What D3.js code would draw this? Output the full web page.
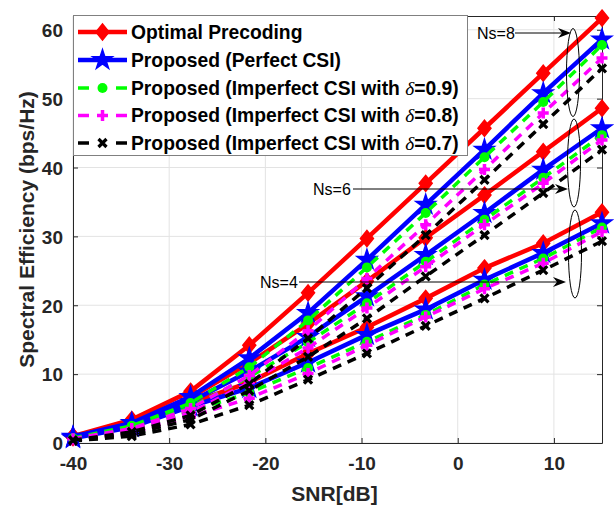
<!DOCTYPE html>
<html><head><meta charset="utf-8">
<script src="https://cdn.jsdelivr.net/npm/d3@7"></script>
<style>
body{margin:0;background:#fff;}
svg{display:block;font-family:"Liberation Sans",Arial,sans-serif;}
</style></head>
<body><svg id="c" width="614" height="510"></svg>
<script>
const snr = [-40, -33.89, -27.78, -21.67, -15.56, -9.44, -3.33, 2.78, 8.89, 15];
const xTicks = [-40, -30, -20, -10, 0, 10];
const yTicks = [0, 10, 20, 30, 40, 50, 60];

const optimal8 = [1.0, 3.4, 7.5, 14.2, 21.8, 29.7, 37.7, 45.7, 53.7, 61.7];
const perfect8 = [0.9, 2.9, 6.7, 12.3, 18.9, 26.6, 34.6, 42.6, 50.8, 58.6];
const imp09_8  = [0.7, 2.5, 5.8, 11.0, 17.8, 25.5, 33.4, 41.5, 49.5, 57.8];
const imp08_8  = [0.6, 2.1, 5.0, 9.8, 16.3, 23.9, 31.7, 39.7, 47.9, 55.9];
const imp07_8  = [0.4, 1.6, 4.0, 8.6, 15.2, 22.5, 30.2, 38.2, 46.3, 54.4];

const optimal6 = [0.9, 3.0, 6.6, 11.6, 17.3, 23.5, 29.8, 36.0, 42.3, 48.6];
const perfect6 = [0.8, 2.6, 6.0, 10.4, 15.4, 21.3, 27.3, 33.4, 39.7, 45.7];
const imp09_6  = [0.6, 2.2, 5.2, 9.6, 14.6, 20.3, 26.3, 32.4, 38.5, 44.7];
const imp08_6  = [0.5, 1.8, 4.4, 8.8, 13.8, 19.6, 25.6, 31.7, 37.7, 44.0];
const imp07_6  = [0.35, 1.3, 3.4, 7.6, 12.5, 18.1, 24.2, 30.2, 36.3, 42.6];

const optimal4 = [0.8, 2.6, 5.8, 8.8, 13.0, 16.8, 21.0, 25.4, 29.0, 33.5];
const perfect4 = [0.7, 2.3, 5.3, 8.0, 11.7, 15.7, 19.4, 23.7, 27.6, 31.9];
const imp09_4  = [0.55, 1.9, 4.6, 7.3, 10.9, 14.7, 18.6, 23.0, 26.8, 31.3];
const imp08_4  = [0.45, 1.5, 3.8, 6.5, 10.1, 14.2, 18.3, 22.4, 26.1, 30.7];
const imp07_4  = [0.3, 1.0, 2.7, 5.5, 9.2, 13.0, 17.0, 21.0, 25.1, 29.3];

const legendNames = ["Optimal Precoding", "Proposed (Perfect CSI)",
  "Proposed (Imperfect CSI with |δ|=0.9)", "Proposed (Imperfect CSI with |δ|=0.8)",
  "Proposed (Imperfect CSI with |δ|=0.7)"];
const nsLabels = ["Ns=8", "Ns=6", "Ns=4"];

const styles = [
  {color:"#ff0000", dash:null, marker:"diamond"},
  {color:"#0000ff", dash:null, marker:"star"},
  {color:"#00ff00", dash:"9,7", marker:"circle"},
  {color:"#ff00ff", dash:"9,7", marker:"plus"},
  {color:"#000000", dash:"9,7", marker:"x"}
];
const groups = [
  [optimal4, perfect4, imp09_4, imp08_4, imp07_4],
  [optimal6, perfect6, imp09_6, imp08_6, imp07_6],
  [optimal8, perfect8, imp09_8, imp08_8, imp07_8]
];

const svg = d3.select("#c");
const L = 73, R = 602, T = 16, B = 443;
const x = d3.scaleLinear().domain([-40, 15]).range([L, R]);
const y = d3.scaleLinear().domain([0, 62]).range([B, T]);
const axC = "#262626";

// grid
svg.append("g").selectAll("line").data(xTicks).join("line")
  .attr("x1", d => x(d)).attr("x2", d => x(d)).attr("y1", T).attr("y2", B)
  .attr("stroke", "#e3e3e3").attr("stroke-width", 1);
svg.append("g").selectAll("line").data(yTicks).join("line")
  .attr("y1", d => y(d)).attr("y2", d => y(d)).attr("x1", L).attr("x2", R)
  .attr("stroke", "#e3e3e3").attr("stroke-width", 1);

// axes
const fmt = d => String(d);
const xa = svg.append("g").attr("transform", `translate(0,${B})`)
  .call(d3.axisBottom(x).tickValues(xTicks).tickFormat(fmt).tickSizeInner(-5).tickSizeOuter(0).tickPadding(14));
const ya = svg.append("g").attr("transform", `translate(${L},0)`)
  .call(d3.axisLeft(y).tickValues(yTicks).tickFormat(fmt).tickSizeInner(-5).tickSizeOuter(0).tickPadding(10));
const xt = svg.append("g").attr("transform", `translate(0,${T})`)
  .call(d3.axisTop(x).tickValues(xTicks).tickSizeInner(-5).tickSizeOuter(0).tickFormat(""));
const yr = svg.append("g").attr("transform", `translate(${R},0)`)
  .call(d3.axisRight(y).tickValues(yTicks).tickSizeInner(-5).tickSizeOuter(0).tickFormat(""));
[xa, ya, xt, yr].forEach(g => {
  g.selectAll("path").attr("stroke", axC).attr("stroke-width", 1);
  g.selectAll("line").attr("stroke", axC);
  g.selectAll("text").attr("fill", axC).style("font-size", "19px").style("font-weight", "bold")
    .style("font-family", "'Liberation Sans',Arial,sans-serif");
});
ya.selectAll("text").attr("dy", "0.36em");

svg.append("text").attr("x", (L + R) / 2 - 3).attr("y", 501).attr("text-anchor", "middle")
  .attr("fill", axC).style("font-size", "21px").style("font-weight", "bold").text("SNR[dB]");
svg.append("text").attr("transform", `translate(34,${(T + B) / 2}) rotate(-90)`)
  .attr("text-anchor", "middle").attr("fill", axC)
  .style("font-size", "21px").style("font-weight", "bold").text("Spectral Efficiency (bps/Hz)");

// markers
function drawMarker(g, type, color, cx, cy) {
  if (type === "diamond") {
    g.append("path").attr("d", `M${cx},${cy-8}L${cx+6.5},${cy}L${cx},${cy+8}L${cx-6.5},${cy}Z`)
      .attr("fill", color).attr("stroke", color).attr("stroke-width", 1.5);
  } else if (type === "star") {
    g.append("path").attr("d", d3.symbol(d3.symbolStar, 120)())
      .attr("transform", `translate(${cx},${cy})`)
      .attr("fill", color).attr("stroke", color).attr("stroke-width", 1.5);
  } else if (type === "circle") {
    g.append("circle").attr("cx", cx).attr("cy", cy).attr("r", 5).attr("fill", color);
  } else if (type === "plus") {
    g.append("path").attr("d", `M${cx-5.5},${cy}H${cx+5.5}M${cx},${cy-5.5}V${cy+5.5}`)
      .attr("stroke", color).attr("stroke-width", 3.5).attr("fill", "none");
  } else {
    g.append("path").attr("d", `M${cx-4},${cy-4}L${cx+4},${cy+4}M${cx-4},${cy+4}L${cx+4},${cy-4}`)
      .attr("stroke", color).attr("stroke-width", 3.2).attr("fill", "none");
  }
}

const line = d3.line().x((d, i) => x(snr[i])).y(d => y(d));
const plot = svg.append("g");
groups.forEach(grp => {
  grp.forEach((vals, k) => {
    const s = styles[k];
    const g = plot.append("g");
    g.append("path").attr("d", line(vals)).attr("fill", "none")
      .attr("stroke", s.color).attr("stroke-width", k < 2 ? 4.5 : 3.5)
      .attr("stroke-dasharray", s.dash);
    vals.forEach((v, i) => drawMarker(g, s.marker, s.color, x(snr[i]), y(v)));
  });
});

// annotations
function arrowHead(tx, ty) {
  svg.append("path").attr("d", `M${tx},${ty}L${tx-13},${ty-5}L${tx-9},${ty}L${tx-13},${ty+5}Z`)
    .attr("fill", "#000");
}
const ann = [
  {label: nsLabels[0], tx: 477, ty: 33, x1: 515, x2: 571, ey: 72.5, ex: 573},
  {label: nsLabels[1], tx: 313, ty: 189, x1: 353, x2: 568, ey: 163, ex: 574},
  {label: nsLabels[2], tx: 260, ty: 282, x1: 299, x2: 566, ey: 254, ex: 575}
];
ann.forEach(a => {
  svg.append("text").attr("x", a.tx).attr("y", a.ty).attr("dy", "0.36em")
    .style("font-size", "16px").attr("fill", "#000").text(a.label);
  svg.append("line").attr("x1", a.x1).attr("x2", a.x2 - 8).attr("y1", a.ty).attr("y2", a.ty)
    .attr("stroke", "#000").attr("stroke-width", 1);
  arrowHead(a.x2, a.ty);
  svg.append("ellipse").attr("cx", a.ex).attr("cy", a.ey).attr("rx", 6.5).attr("ry", 44)
    .attr("fill", "none").attr("stroke", "#000").attr("stroke-width", 1);
});

// legend
const lg = svg.append("g");
lg.append("rect").attr("x", 73.5).attr("y", 15.5).attr("width", 394).attr("height", 140)
  .attr("fill", "#fff").attr("stroke", "#808080").attr("stroke-width", 1);
const rowY = [32, 60, 88, 115.5, 143];
legendNames.forEach((name, k) => {
  const s = styles[k];
  const yy = rowY[k];
  if (s.dash) {
    lg.append("line").attr("x1", 78).attr("x2", 89).attr("y1", yy).attr("y2", yy)
      .attr("stroke", s.color).attr("stroke-width", 3.5);
    lg.append("line").attr("x1", 116).attr("x2", 127).attr("y1", yy).attr("y2", yy)
      .attr("stroke", s.color).attr("stroke-width", 3.5);
  } else {
    lg.append("line").attr("x1", 78).attr("x2", 127).attr("y1", yy).attr("y2", yy)
      .attr("stroke", s.color).attr("stroke-width", 4.5);
  }
  drawMarker(lg, s.marker, s.color, 102.5, yy);
  const t = lg.append("text").attr("x", 131).attr("y", yy).attr("dy", "0.36em")
    .attr("fill", "#000").style("font-size", "19.3px").style("font-weight", "bold");
  const parts = name.split("|");
  if (parts.length === 1) t.text(name);
  else {
    t.append("tspan").text(parts[0]);
    t.append("tspan").style("font-family", "'Liberation Serif',serif").style("font-style", "italic")
      .style("font-weight", "normal").text(parts[1]);
    t.append("tspan").text(parts[2]);
  }
});
</script></body></html>
